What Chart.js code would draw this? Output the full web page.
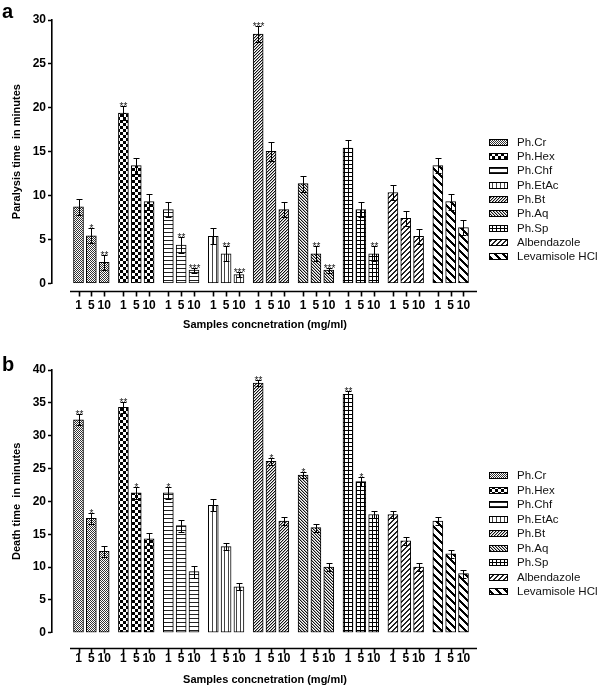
<!DOCTYPE html>
<html>
<head>
<meta charset="utf-8">
<title>Paralysis and death time</title>
<script src="https://cdn.jsdelivr.net/npm/chart.js@4.4.1/dist/chart.umd.min.js"></script>
<style>
  body { margin: 0; background: #fff; }
  .panel { position: relative; width: 600px; }
  .tag { position: absolute; left: 2px; font: bold 20px Arial, "Liberation Sans", sans-serif; line-height: 20px; }
  canvas { display: block; }
</style>
</head>
<body>
<div class="panel"><span class="tag" style="top:1px">a</span><canvas id="paralysis" width="600" height="342"></canvas></div>
<div class="panel"><span class="tag" style="top:12px">b</span><canvas id="death" width="600" height="345"></canvas></div>
<script>
const groups = ['Ph.Cr', 'Ph.Hex', 'Ph.Chf', 'Ph.EtAc', 'Ph.Bt', 'Ph.Aq', 'Ph.Sp', 'Albendazole', 'Levamisole HCl'];
const concentrations = ['1', '5', '10'];
const hatches = ['fine', 'check', 'hline', 'vline', 'diagR', 'diagL', 'grid', 'albe', 'leva'];

// panel a - paralysis time (min), mean / SEM / significance per group (1, 5, 10 mg/ml)
const paralysisMean = [[8.7, 5.4, 2.4], [19.4, 13.4, 9.3], [8.4, 4.35, 1.5], [5.35, 3.35, 1.0], [28.4, 15.05, 8.4],
  [11.35, 3.35, 1.5], [15.4, 8.4, 3.35], [10.35, 7.4, 5.35], [13.4, 9.3, 6.35]];
const paralysisSem = [[0.9, 0.85, 0.85], [0.8, 0.9, 0.9], [0.9, 0.9, 0.3], [0.9, 0.85, 0.3], [0.9, 1.1, 0.9],
  [0.9, 0.85, 0.3], [0.9, 0.9, 0.85], [0.9, 0.85, 0.85], [0.85, 0.9, 0.9]];
const paralysisSig = [['', '*', '**'], ['**', '', ''], ['', '**', '***'], ['', '**', '***'], ['***', '', ''],
  ['', '**', '***'], ['', '', '**'], ['', '', ''], ['', '', '']];
const paralysisTicks = [0, 5, 10, 15, 20, 25, 30];

// panel b - death time (min)
const deathMean = [[32.4, 17.4, 12.4], [34.3, 21.3, 14.3], [21.3, 16.3, 9.3], [19.4, 13.1, 7.0], [38.0, 26.1, 17.0],
  [24.0, 16.0, 10.0], [36.3, 23.0, 18.0], [18.0, 14.0, 10.0], [17.0, 12.0, 9.0]];
const deathSem = [[0.85, 0.9, 0.85], [0.9, 0.9, 0.9], [0.9, 0.9, 0.9], [0.9, 0.55, 0.55], [0.5, 0.5, 0.6],
  [0.5, 0.6, 0.6], [0.5, 0.65, 0.6], [0.6, 0.6, 0.6], [0.6, 0.6, 0.6]];
const deathSig = [['**', '*', ''], ['**', '*', ''], ['*', '', ''], ['', '', ''], ['**', '*', ''],
  ['*', '', ''], ['**', '*', ''], ['', '', ''], ['', '', '']];
const deathTicks = [0, 5, 10, 15, 20, 25, 30, 35, 40];

const FONT = 'Arial, "Liberation Sans", sans-serif';
const GROUP_STEP = 3.5;

// small pixel tiles for the Prism-like fills
function makePattern(kind) {
  const sizes = { fine: 2, check: 6, hline: 4, vline: 4, diagR: 3, diagL: 3, grid: 4, albe: 5, leva: 8 };
  const n = sizes[kind];
  const c = document.createElement('canvas');
  c.width = n; c.height = n;
  const g = c.getContext('2d');
  g.fillStyle = '#fff';
  g.fillRect(0, 0, n, n);
  for (let x = 0; x < n; x++) {
    for (let y = 0; y < n; y++) {
      let col = null;
      if (kind === 'fine' && (x + y) % 2 === 0) col = '#333';
      if (kind === 'check' && (Math.floor(x / 3) + Math.floor(y / 3)) % 2 === 0) col = '#000';
      if (kind === 'hline' && y === 0) col = '#222';
      if (kind === 'vline' && x === 0) col = '#444';
      if (kind === 'diagR') { const d = (x + y) % n; if (d === 0) col = '#111'; else if (d === 1) col = '#aaa'; }
      if (kind === 'diagL') { const d = (x - y + n) % n; if (d === 0) col = '#111'; else if (d === 1) col = '#aaa'; }
      if (kind === 'grid' && (x === 0 || y === 0)) col = '#000';
      if (kind === 'albe' && (x + y) % n < 2) col = '#222';
      if (kind === 'leva' && (x - y + n) % n < 3) col = '#000';
      if (col) { g.fillStyle = col; g.fillRect(x, y, 1, 1); }
    }
  }
  return g.createPattern(c, 'repeat');
}

const fills = hatches.map(makePattern);
const xPositions = [];
groups.forEach((_, g) => concentrations.forEach((_, i) => xPositions.push(g * GROUP_STEP + i)));

function makeChart(canvasId, p) {
  const canvas = document.getElementById(canvasId);
  const ctx = canvas.getContext('2d');

  const datasets = groups.map((name, g) => ({
    label: name,
    data: p.means[g].map((v, i) => ({ x: g * GROUP_STEP + i, y: v })),
    backgroundColor: fills[g],
    borderColor: '#000',
    borderWidth: 1,
    borderSkipped: false,
    barThickness: 10,
    grouped: false,
  }));

  // error bars, stars, detached x axis and legend
  const extras = {
    id: 'extras',
    afterDatasetsDraw(chart) {
      const { ctx: c, scales: { x, y }, chartArea } = chart;
      c.save();
      c.strokeStyle = '#000';
      c.lineWidth = 1;
      c.fillStyle = '#222';
      c.font = '10px ' + FONT;
      c.textAlign = 'center';
      c.textBaseline = 'alphabetic';
      p.means.forEach((row, g) => row.forEach((v, i) => {
        const px = Math.round(x.getPixelForValue(g * GROUP_STEP + i)) + 0.5;
        const hi = Math.round(y.getPixelForValue(v + p.sems[g][i])) + 0.5;
        const lo = Math.round(y.getPixelForValue(v - p.sems[g][i])) + 0.5;
        c.beginPath();
        c.moveTo(px, hi); c.lineTo(px, lo);
        c.moveTo(px - 3, hi); c.lineTo(px + 3, hi);
        c.moveTo(px - 3, lo); c.lineTo(px + 3, lo);
        c.stroke();
        if (p.sig[g][i]) c.fillText(p.sig[g][i], px, hi + 3);
      }));

      // x axis drawn apart from the plot, Prism style
      const ay = Math.round(chartArea.bottom + p.axisGap) + 0.5;
      c.lineWidth = 1.6;
      c.beginPath();
      c.moveTo(chartArea.left + 18, ay);
      c.lineTo(chartArea.right - 1, ay);
      xPositions.forEach(v => {
        const px = Math.round(x.getPixelForValue(v)) + 0.5;
        c.moveTo(px, ay);
        c.lineTo(px, ay + 5);
      });
      c.stroke();

      // legend
      c.lineWidth = 1;
      c.font = '11.5px ' + FONT;
      c.textAlign = 'left';
      c.textBaseline = 'middle';
      groups.forEach((name, g) => {
        const cy = Math.round(p.legendTop + g * p.legendStep);
        c.fillStyle = fills[g];
        c.fillRect(489, cy - 3, 19, 7);
        c.strokeRect(489.5, cy - 2.5, 18, 6);
        c.fillStyle = '#111';
        c.fillText(name, 517, cy + 1);
      });
      c.restore();
    },
  };

  return new Chart(ctx, {
    type: 'bar',
    data: { datasets },
    plugins: [extras],
    options: {
      responsive: false,
      animation: false,
      devicePixelRatio: 1,
      layout: { padding: { top: p.top, right: 122, left: 0, bottom: 0 } },
      plugins: { legend: { display: false }, tooltip: { enabled: false } },
      scales: {
        x: {
          type: 'linear',
          offset: false,
          min: -2.065,
          max: 31.13,
          grid: { display: false, drawTicks: false },
          border: { display: false },
          afterBuildTicks: s => { s.ticks = xPositions.map(v => ({ value: v })); },
          afterFit: s => { s.height = p.xHeight; },
          ticks: {
            autoSkip: false,
            maxRotation: 0,
            minRotation: 0,
            padding: p.labelPad,
            color: '#000',
            font: { family: FONT, size: 12, weight: 'bold' },
            callback: (v, i) => concentrations[i % 3],
          },
          title: {
            display: true,
            text: 'Samples concnetration (mg/ml)',
            color: '#000',
            font: { family: FONT, size: 11, weight: 'bold' },
            padding: { top: 0, bottom: p.titlePad },
          },
        },
        y: {
          min: 0,
          max: p.yTicks[p.yTicks.length - 1],
          afterBuildTicks: s => { s.ticks = p.yTicks.map(v => ({ value: v })); },
          afterFit: s => { s.width = 52; },
          grid: { drawOnChartArea: false, tickLength: 4, tickWidth: 1.5, tickColor: '#000' },
          border: { display: true, color: '#000', width: 1.6 },
          ticks: {
            padding: 2,
            color: '#000',
            font: { family: FONT, size: 12, weight: 'bold' },
          },
          title: {
            display: true,
            text: p.yTitle,
            color: '#000',
            font: { family: FONT, size: 11, weight: 'bold' },
            padding: { top: 10, bottom: 0 },
          },
        },
      },
    },
  });
}

makeChart('paralysis', {
  means: paralysisMean, sems: paralysisSem, sig: paralysisSig, yTicks: paralysisTicks,
  yTitle: 'Paralysis time  in minutes',
  top: 20, xHeight: 58.7, axisGap: 7.7, labelPad: 15, titlePad: 10.4,
  legendTop: 141.7, legendStep: 14.3,
});

makeChart('death', {
  means: deathMean, sems: deathSem, sig: deathSig, yTicks: deathTicks,
  yTitle: 'Death time  in minutes',
  top: 28, xHeight: 54.3, axisGap: 15.6, labelPad: 19, titlePad: 0.4,
  legendTop: 133, legendStep: 14.5,
});
</script>
</body>
</html>
